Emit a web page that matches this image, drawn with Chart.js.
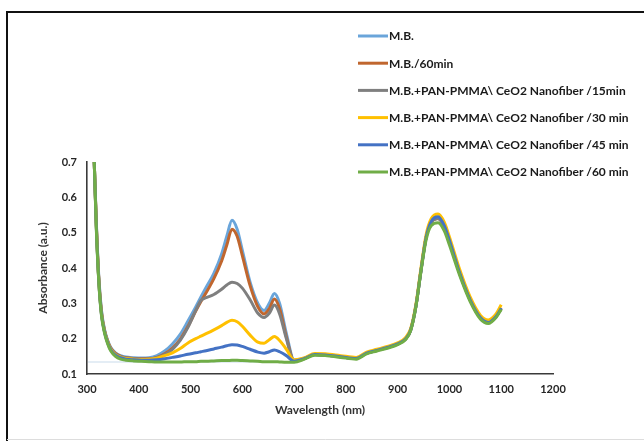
<!DOCTYPE html>
<html>
<head>
<meta charset="utf-8">
<script src="https://cdn.jsdelivr.net/npm/chart.js@4.4.1/dist/chart.umd.min.js"></script>
<style>
	body { margin: 0; background: #ffffff; }
	#wrap { width: 644px; height: 441px; }
</style>
</head>
<body>
<div id="wrap"><canvas id="grafica" width="644" height="441"></canvas></div>
<script>
// longitudes de onda (nm), comunes a todas las series
var wavelengths = [314, 318, 323, 328, 334, 340, 346, 355, 365, 375, 390,
	405, 420, 435, 450, 465, 480, 495, 510, 520, 530, 545, 560, 570, 580, 590, 600, 615, 630, 642, 652, 662, 672, 685, 700,
	720, 740, 760, 790, 820, 840, 860, 880, 900, 915, 925, 935, 945, 955, 965, 978, 990, 1000, 1020, 1040, 1060, 1075, 1090, 1100];

var serieMB = [0.70, 0.53, 0.37, 0.28, 0.225, 0.195, 0.175, 0.16, 0.152, 0.148, 0.146,
	0.145, 0.146, 0.152, 0.165, 0.185, 0.212, 0.25, 0.29, 0.318, 0.345, 0.385, 0.44, 0.49, 0.535, 0.51, 0.45, 0.36, 0.30, 0.28, 0.30, 0.328, 0.30, 0.215, 0.14,
	0.144, 0.155, 0.154, 0.149, 0.144, 0.159, 0.167, 0.175, 0.185, 0.199, 0.224, 0.29, 0.393, 0.487, 0.53, 0.54, 0.517, 0.476, 0.384, 0.31, 0.259, 0.246, 0.263, 0.286];

var serieMB60 = [0.70, 0.525, 0.365, 0.275, 0.222, 0.193, 0.173, 0.158, 0.15, 0.146, 0.144,
	0.143, 0.143, 0.147, 0.157, 0.173, 0.198, 0.235, 0.278, 0.305, 0.33, 0.37, 0.42, 0.465, 0.51, 0.49, 0.435, 0.35, 0.29, 0.27, 0.285, 0.312, 0.285, 0.205, 0.138,
	0.144, 0.155, 0.154, 0.149, 0.144, 0.159, 0.167, 0.175, 0.185, 0.199, 0.224, 0.29, 0.393, 0.487, 0.53, 0.54, 0.517, 0.476, 0.384, 0.31, 0.259, 0.246, 0.263, 0.286];

var serie15 = [0.70, 0.52, 0.36, 0.27, 0.22, 0.19, 0.17, 0.156, 0.149, 0.145, 0.143,
	0.142, 0.142, 0.146, 0.155, 0.17, 0.195, 0.232, 0.28, 0.308, 0.316, 0.325, 0.34, 0.352, 0.36, 0.356, 0.343, 0.31, 0.272, 0.26, 0.272, 0.295, 0.27, 0.20, 0.137,
	0.144, 0.155, 0.154, 0.149, 0.144, 0.159, 0.167, 0.175, 0.185, 0.199, 0.224, 0.29, 0.393, 0.487, 0.53, 0.54, 0.517, 0.476, 0.384, 0.31, 0.259, 0.246, 0.263, 0.286];

var serie30 = [0.70, 0.52, 0.36, 0.27, 0.22, 0.19, 0.17, 0.155, 0.148, 0.144, 0.142,
	0.141, 0.142, 0.145, 0.152, 0.16, 0.172, 0.188, 0.20, 0.207, 0.214, 0.225, 0.237, 0.246, 0.252, 0.248, 0.235, 0.21, 0.19, 0.187, 0.197, 0.206, 0.195, 0.17, 0.14,
	0.146, 0.158, 0.157, 0.152, 0.147, 0.162, 0.17, 0.178, 0.188, 0.203, 0.228, 0.295, 0.40, 0.495, 0.54, 0.553, 0.53, 0.488, 0.395, 0.318, 0.266, 0.253, 0.27, 0.296];

var serie45 = [0.70, 0.515, 0.358, 0.268, 0.218, 0.188, 0.168, 0.153, 0.146, 0.142, 0.14,
	0.139, 0.139, 0.14, 0.143, 0.147, 0.151, 0.156, 0.16, 0.163, 0.166, 0.171, 0.176, 0.18, 0.183, 0.182, 0.178, 0.17, 0.162, 0.159, 0.163, 0.168, 0.163, 0.152, 0.136,
	0.144, 0.155, 0.154, 0.149, 0.144, 0.159, 0.167, 0.175, 0.185, 0.199, 0.224, 0.29, 0.393, 0.487, 0.532, 0.545, 0.52, 0.478, 0.385, 0.31, 0.259, 0.246, 0.263, 0.286];

var serie60 = [0.70, 0.51, 0.355, 0.265, 0.215, 0.185, 0.165, 0.15, 0.142, 0.139, 0.137,
	0.136, 0.135, 0.134, 0.134, 0.134, 0.134, 0.135, 0.135, 0.136, 0.136, 0.137, 0.138, 0.138, 0.139, 0.139, 0.138, 0.137, 0.136, 0.135, 0.135, 0.135, 0.134, 0.133, 0.133,
	0.142, 0.153, 0.152, 0.147, 0.142, 0.157, 0.165, 0.173, 0.183, 0.197, 0.222, 0.288, 0.39, 0.48, 0.52, 0.528, 0.505, 0.465, 0.378, 0.305, 0.255, 0.243, 0.26, 0.283];

// linea base clara junto al eje
var baseWavelengths = [302, 700];
var baseValues = [0.134, 0.134];

var etiquetas = ["M.B.", "M.B./60min", "M.B.+PAN-PMMA\\ CeO2 Nanofiber /15min", "M.B.+PAN-PMMA\\ CeO2 Nanofiber /30 min",
	"M.B.+PAN-PMMA\\ CeO2 Nanofiber /45 min", "M.B.+PAN-PMMA\\ CeO2 Nanofiber /60 min"];
var colores = ["#6AA5DA", "#C0662E", "#7F7F7F", "#FFC000", "#4472C4", "#70AD47"];

var xTicks = [300, 400, 500, 600, 700, 800, 900, 1000, 1100, 1200];
var yTicks = ["0.1", "0.2", "0.3", "0.4", "0.5", "0.6", "0.7"];

function puntos(xs, ys)
{
	return xs.map(function (w, i) { return { x: w, y: ys[i] }; });
}

var series = [serieMB, serieMB60, serie15, serie30, serie45, serie60];
var datasets = [];
for (var i = 0; i < series.length; i++)
{
	datasets.push({
		label: etiquetas[i],
		data: puntos(wavelengths, series[i]),
		borderColor: colores[i],
		borderWidth: 3,
		pointRadius: 0,
		cubicInterpolationMode: 'monotone',
		fill: false,
		order: series.length - 1 - i
	});
}
datasets.push({
	label: "base",
	esBase: true,
	data: puntos(baseWavelengths, baseValues),
	borderColor: "#C9DCEC",
	borderWidth: 1.2,
	pointRadius: 0,
	fill: false,
	order: 10
});

var marcoYLeyenda = {
	id: 'marcoYLeyenda',
	beforeDraw: function (chart) {
		var ctx = chart.ctx;
		ctx.save();
		ctx.fillStyle = '#ffffff';
		ctx.fillRect(0, 0, chart.width, chart.height);
		ctx.strokeStyle = '#111111';
		ctx.lineWidth = 2;
		ctx.beginPath();
		ctx.moveTo(7, 441);
		ctx.lineTo(7, 12);
		ctx.lineTo(644, 12);
		ctx.stroke();
		ctx.strokeStyle = '#dddddd';
		ctx.lineWidth = 1;
		ctx.beginPath();
		ctx.moveTo(7, 439.5);
		ctx.lineTo(644, 439.5);
		ctx.stroke();
		ctx.restore();
	},
	afterDraw: function (chart) {
		var ctx = chart.ctx;
		ctx.save();
		ctx.font = "bold 12px Lato";
		ctx.textBaseline = "middle";
		ctx.textAlign = "left";
		var y0 = 36, paso = 27.2;
		chart.data.datasets.forEach(function (ds, i) {
			if (ds.esBase) return;
			var y = y0 + i * paso;
			ctx.strokeStyle = ds.borderColor;
			ctx.lineWidth = 3;
			ctx.beginPath();
			ctx.moveTo(358, y);
			ctx.lineTo(388, y);
			ctx.stroke();
			ctx.fillStyle = '#1a1a1a';
			ctx.fillText(ds.label, 389, y + 0.5);
		});
		ctx.restore();
	}
};

new Chart(document.getElementById('grafica'), {
	type: 'line',
	data: { datasets: datasets },
	options: {
		responsive: false,
		animation: false,
		layout: { padding: { left: 34, top: 162, right: 91, bottom: 20 } },
		plugins: {
			legend: { display: false },
			tooltip: { enabled: false }
		},
		scales: {
			x: {
				type: 'linear',
				min: 300,
				max: 1200,
				afterFit: function (s) { s.height = 47; },
				afterBuildTicks: function (s) { s.ticks = xTicks.map(function (v) { return { value: v }; }); },
				grid: { display: false, drawTicks: false },
				border: { display: true, color: '#3a3a3a', width: 1.6 },
				ticks: {
					padding: 9,
					color: '#262626',
					font: { family: 'Lato', size: 11, weight: 'bold' },
					callback: function (v) { return String(v); }
				},
				title: {
					display: true,
					text: 'Wavelength (nm)',
					color: '#333333',
					padding: { top: 0, bottom: 4 },
					font: { family: 'Lato', size: 12, weight: 'bold' }
				}
			},
			y: {
				min: 0.1,
				max: 0.7,
				afterFit: function (s) { s.width = 53; },
				afterBuildTicks: function (s) { s.ticks = yTicks.map(function (t) { return { value: parseFloat(t) }; }); },
				grid: { display: false, drawTicks: false },
				border: { display: true, color: '#3a3a3a', width: 1.6 },
				ticks: {
					padding: 10,
					color: '#262626',
					font: { family: 'Lato', size: 11, weight: 'bold' },
					callback: function (v) { return yTicks[Math.round(v * 10) - 1]; }
				},
				title: {
					display: true,
					text: 'Absorbance (a.u.)',
					color: '#333333',
					padding: { top: 2, bottom: 0 },
					font: { family: 'Lato', size: 12, weight: 'bold' }
				}
			}
		}
	},
	plugins: [marcoYLeyenda]
});
</script>
</body>
</html>
